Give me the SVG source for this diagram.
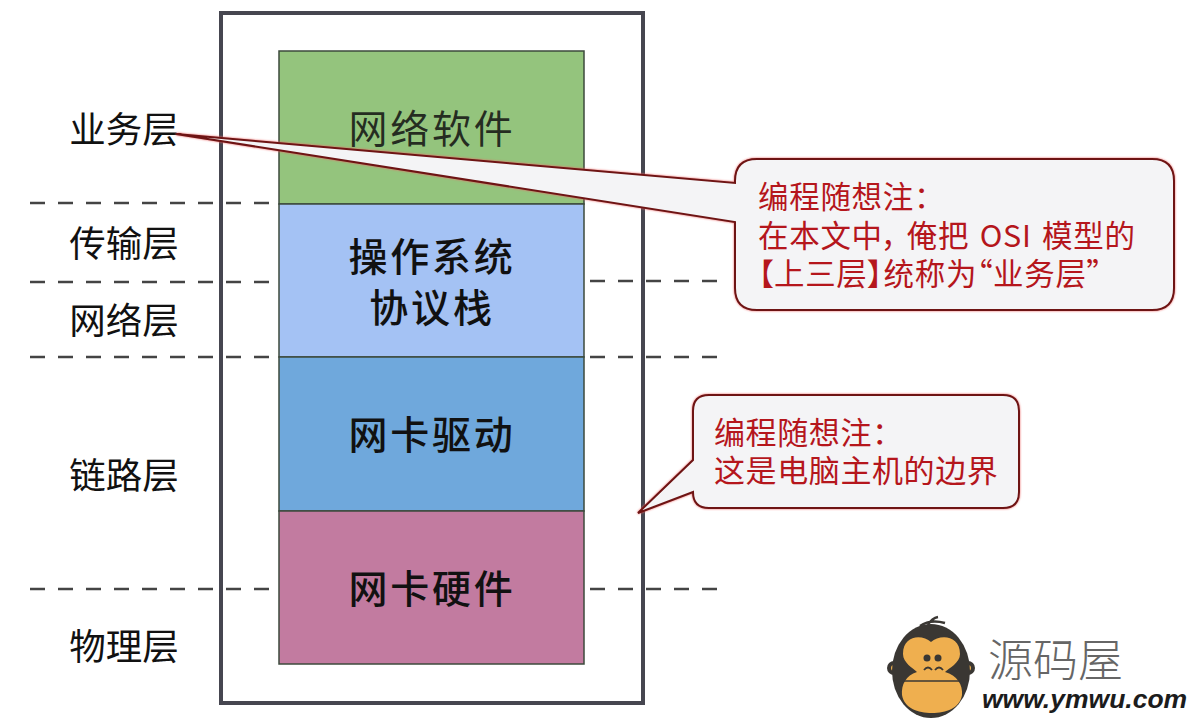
<svg xmlns="http://www.w3.org/2000/svg" width="1200" height="720" viewBox="0 0 1200 720">
<style>
text{font-family:"Noto Sans CJK SC","Liberation Sans",sans-serif}
.lay{font-size:36.5px;fill:#111;text-anchor:middle}
.mod{font-size:39px;fill:#111;text-anchor:middle;letter-spacing:2.8px}
.b{font-weight:500}
.note{font-size:30.5px;fill:#b5161c;letter-spacing:.7px;font-feature-settings:"palt"}
.n2{font-size:31px;letter-spacing:.6px}
.box{stroke:#3c4a3c;stroke-width:1.5}
.dash{stroke:#444;stroke-width:2.5;stroke-dasharray:15 13;fill:none}
.call{fill:#f4f4f6;stroke:#6e1414;stroke-width:2;filter:drop-shadow(0 0 1.2px #e66)}
</style>
<rect width="1200" height="720" fill="#fff"/>
<g id="host"><rect x="221" y="13" width="422" height="690" fill="#fff" stroke="#464650" stroke-width="4"/></g>
<g id="soft"><rect class="box" x="279" y="51" width="305" height="153" fill="#94c47d"/><text class="mod" x="432" y="143" fill-opacity=".85">网络软件</text></g>
<g id="stack"><rect class="box" x="279" y="204" width="305" height="153" fill="#a4c2f4"/><text class="mod b" x="432" y="271">操作系统</text><text class="mod b" x="432" y="322">协议栈</text></g>
<g id="driver"><rect class="box" x="279" y="357" width="305" height="154" fill="#6fa8dc"/><text class="mod b" x="432" y="449">网卡驱动</text></g>
<g id="nic"><rect class="box" x="279" y="511" width="305" height="153" fill="#c27ba0"/><text class="mod b" x="432" y="603">网卡硬件</text></g>
<g id="connectors">
<path class="dash" d="M30 203H270M30 282H270M30 357H270M30 589H270M590 281H718M590 357H718M590 589H718"/>
</g>
<g id="layers">
<text class="lay" x="124" y="143">业务层</text>
<text class="lay" x="124" y="257">传输层</text>
<text class="lay" x="124" y="334">网络层</text>
<text class="lay" x="124" y="489">链路层</text>
<text class="lay" x="124" y="660">物理层</text>
</g>
<g id="note1">
<path class="call" d="M176 134L735 183V181Q735 159 757 159H1152Q1174 159 1174 181V288Q1174 310 1152 310H757Q735 310 735 288V222Z"/>
<text class="note" x="758" y="208">编程随想注：</text>
<text class="note" x="758" y="246.500" word-spacing="3">在本文中，<tspan dx="8">俺把</tspan> OSI 模型的</text>
<text class="note" x="758" y="285">【上三层】统称为“业务层”</text>
</g>
<g id="note2">
<path class="call" d="M638 513L693 460V411Q693 395 709 395H1003Q1019 395 1019 411V492Q1019 508 1003 508H709Q693 508 693 492Z"/>
<text class="note n2" x="714" y="444">编程随想注：</text>
<text class="note n2" x="714" y="482">这是电脑主机的边界</text>
</g>
<g id="logo">
<circle cx="894" cy="668" r="7" fill="#3a3733"/><circle cx="968" cy="668" r="7" fill="#3a3733"/>
<circle cx="894" cy="668" r="3" fill="#efaf4f"/><circle cx="968" cy="668" r="3" fill="#efaf4f"/>
<path d="M920 626Q930 619 945 623M928 625Q932 618 938 617" fill="none" stroke="#3a3733" stroke-width="2.5"/>
<ellipse cx="931" cy="671" rx="39" ry="47" fill="#3a3733"/>
<path d="M931 642C922 634 903 635 903 654C903 663 913 668 917 672C906 675 901 685 902 695C904 708 918 713 932 713C946 713 960 708 962 695C963 685 957 675 945 672C949 668 960 663 960 654C960 635 940 634 931 642Z" fill="#efaf4f"/>
<path d="M902 681H962" stroke="#3a3733" stroke-width="1.5"/>
<circle cx="927" cy="658" r="3.5" fill="#3a3733"/><circle cx="938" cy="658" r="3.5" fill="#3a3733"/>
<path d="M924 670Q928 665 932 670M935 670Q939 665 943 670" fill="none" stroke="#3a3733" stroke-width="1.8"/>
<text x="988" y="677" font-size="45" fill="#666" font-weight="300">源码屋</text>
<text x="982" y="708" font-size="26.5" font-weight="700" font-style="italic" fill="#1c1c1c" style="font-family:'Liberation Sans',sans-serif">www.ymwu.com</text>
</g>
</svg>
